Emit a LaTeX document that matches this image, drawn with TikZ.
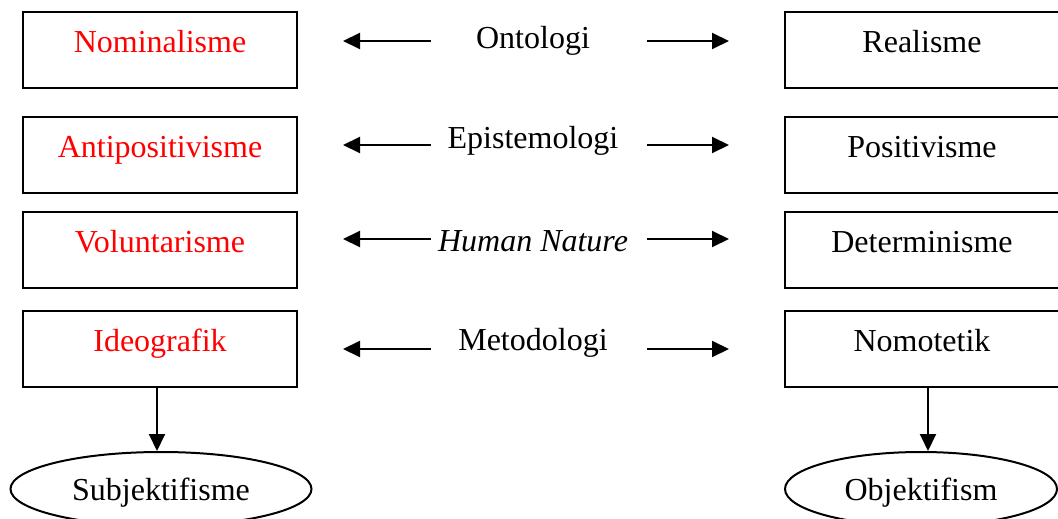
\documentclass[tikz,border=0pt]{standalone}
\usepackage{fontspec}
\setmainfont{Liberation Serif}
\usepackage{xcolor}
\usepackage{tikz}
\usetikzlibrary{positioning,%
  arrows.meta,%
  shapes.geometric,%
  calc
}

\begin{document}
\begin{tikzpicture}[x=1pt,y=-1pt,line width=2pt,
    kotak/.style={draw,rectangle,inner sep=0pt,minimum width=274pt,
      text height=40.5pt,text depth=35.5pt,anchor=base},
    elips/.style={draw,ellipse,inner sep=0pt,minimum width=301pt,minimum height=74pt,
      text height=22pt,text depth=0pt},
    tengah/.style={anchor=base,inner sep=0pt},
    panah/.style={-{Triangle[length=17pt,width=16pt]}}]
            \fontsize{32}{38}\selectfont
            \useasboundingbox (0,0) rectangle (1058,519);

            % kiri
            \node[kotak,text=red] (nom) at (160,53) {Nominalisme};
            \node[kotak,text=red] (anti) at (160,157) {Antipositivisme};
            \node[kotak,text=red] (vol) at (160,252) {Voluntarisme};
            \node[kotak,text=red] (ideo) at (160,351) {Ideografik};

            % kanan
            \node[kotak] (real) at (922,53) {Realisme};
            \node[kotak] (pos) at (922,157) {Positivisme};
            \node[kotak] (det) at (922,252) {Determinisme};
            \node[kotak] (nomo) at (922,351) {Nomotetik};

            % tengah
            \node[tengah] (onto) at (533,49) {Ontologi};
            \node[tengah] (epis) at (533,148) {Epistemologi};
            \node[tengah] (hum) at (533,251) {\itshape Human Nature};
            \node[tengah] (meto) at (533,350) {Metodologi};

            \foreach \i/\y in {1/41,2/145,3/239,4/349} {
                \coordinate (kiriA\i) at (431,\y);
                \coordinate (kiriB\i) at (343,\y);
                \coordinate (kananA\i) at (647,\y);
                \coordinate (kananB\i) at (729,\y);
                \draw[panah] (kiriA\i) -- (kiriB\i);
                \draw[panah] (kananA\i) -- (kananB\i);
            }

            \node[elips] (subj) at (161,489) {Subjektifisme};
            \node[elips,minimum width=272pt] (obj) at (921,489) {Objektifism};

            \draw[panah] ([xshift=-3pt]ideo.south) -- ([xshift=-3pt]ideo.south |- subj.north);
            \draw[panah] ([xshift=6pt]nomo.south) -- ([xshift=6pt]nomo.south |- obj.north);
        \end{tikzpicture}
\end{document}
